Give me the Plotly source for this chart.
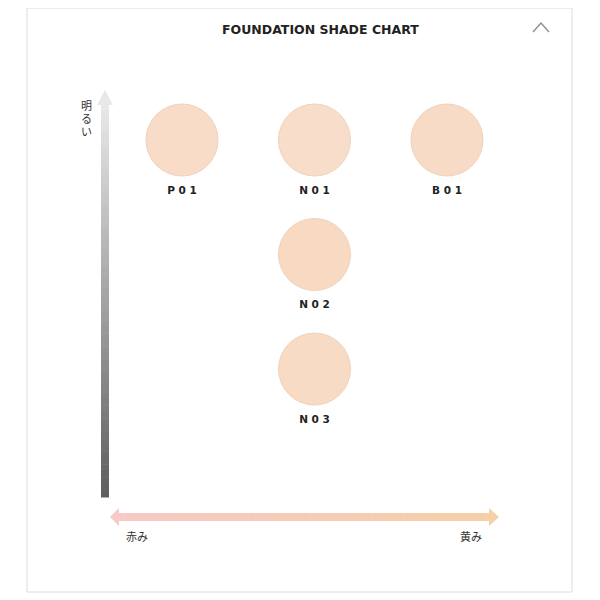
import plotly.graph_objects as go

shades = ["P01", "N01", "B01", "N02", "N03"]
cols = [0, 1, 2, 1, 1]
rows = [0, 0, 0, 1, 2]
fill = ["#f9dcc7", "#f8ddca", "#f8dbc6", "#f8dac3", "#f8dbc5"]

W = 600
OFF = 8
def px(v): return (v - OFF) / W
def py(v): return 1 - (v - OFF) / W

fig = go.Figure()
fig.add_trace(go.Scatter(
    x=cols, y=rows, mode="markers+text", text=["<b>%s</b>" % " ".join(s) for s in shades],
    textposition="bottom center",
    textfont=dict(family="DejaVu Sans", size=10.5, color="#222"),
    marker=dict(size=72, color=fill, line=dict(color="#efd2ba", width=1)),
    hoverinfo="text"))

shapes = []
shapes.append(dict(type="rect", xref="paper", yref="paper", x0=px(27), x1=px(572), y0=py(592), y1=py(8),
                   line=dict(color="#dcdcdc", width=1)))
N = 60
top, bot = 104, 497
for i in range(N):
    a = top + (bot - top) * i / N
    b = top + (bot - top) * (i + 1) / N + 0.5
    g = int(232 - (232 - 95) * i / (N - 1))
    shapes.append(dict(type="rect", xref="paper", yref="paper", x0=px(101), x1=px(109), y0=py(b), y1=py(a),
                       line=dict(width=0), fillcolor=f"rgb({g},{g},{g})"))
shapes.append(dict(type="path", xref="paper", yref="paper",
                   path=f"M {px(97)} {py(105)} L {px(105)} {py(90)} L {px(113)} {py(105)} Z",
                   line=dict(width=0), fillcolor="rgb(232,232,232)"))
l, r = 118, 490
c0, c1 = (246, 202, 198), (245, 208, 168)
for i in range(N):
    a = l + (r - l) * i / N
    b = l + (r - l) * (i + 1) / N + 0.5
    t = i / (N - 1)
    c = tuple(int(c0[k] + (c1[k] - c0[k]) * t) for k in range(3))
    shapes.append(dict(type="rect", xref="paper", yref="paper", x0=px(a), x1=px(b), y0=py(521), y1=py(513),
                       line=dict(width=0), fillcolor=f"rgb{c}"))
shapes.append(dict(type="path", xref="paper", yref="paper",
                   path=f"M {px(119)} {py(508)} L {px(110)} {py(517)} L {px(119)} {py(526)} Z",
                   line=dict(width=0), fillcolor="rgb(246,202,198)"))
shapes.append(dict(type="path", xref="paper", yref="paper",
                   path=f"M {px(489)} {py(508)} L {px(499)} {py(517)} L {px(489)} {py(526)} Z",
                   line=dict(width=0), fillcolor="rgb(245,208,168)"))
shapes.append(dict(type="path", xref="paper", yref="paper",
                   path=f"M {px(533)} {py(32)} L {px(541)} {py(23)} L {px(549)} {py(32)}",
                   line=dict(color="#888", width=1.2)))

ann = [
    dict(text="<b>FOUNDATION SHADE CHART</b>", x=px(320), y=py(30), font=dict(size=12.5, family="DejaVu Sans", color="#222")),
    dict(text="明", x=px(87), y=py(105), font=dict(size=11, family="Noto Sans CJK JP", color="#333")),
    dict(text="る", x=px(87), y=py(118), font=dict(size=11, family="Noto Sans CJK JP", color="#333")),
    dict(text="い", x=px(87), y=py(131), font=dict(size=11, family="Noto Sans CJK JP", color="#333")),
    dict(text="赤み", x=px(137), y=py(536), font=dict(size=11, family="Noto Sans CJK JP", color="#333")),
    dict(text="黄み", x=px(471), y=py(536), font=dict(size=11, family="Noto Sans CJK JP", color="#333")),
]
for a in ann:
    a.update(xref="paper", yref="paper", showarrow=False, xanchor="center", yanchor="middle")

cx, cy, sx, sy = 182 - OFF, 140 - OFF, 132.5, 114.5
fig.update_layout(
    width=600, height=600, margin=dict(l=0, r=0, t=0, b=0),
    paper_bgcolor="white", plot_bgcolor="white", showlegend=False,
    xaxis=dict(range=[-cx/sx, (600-cx)/sx], visible=False, fixedrange=True),
    yaxis=dict(range=[(600-cy)/sy, -cy/sy], visible=False, fixedrange=True),
    shapes=shapes, annotations=ann)
fig.write_html("out.html")
